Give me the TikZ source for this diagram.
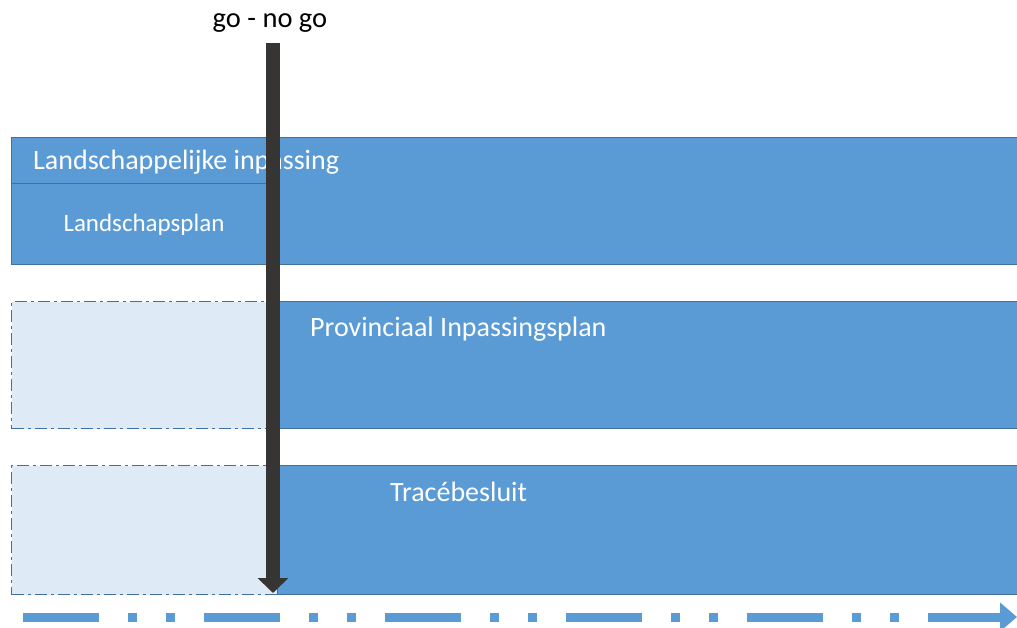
\documentclass[tikz,border=0pt]{standalone}
\usepackage{fontspec}
\setmainfont{Carlito}
\usetikzlibrary{arrows.meta}
\definecolor{barblue}{HTML}{5B9BD5}
\definecolor{barborder}{HTML}{41719C}
\definecolor{lightfill}{HTML}{DEEBF7}
\definecolor{godark}{HTML}{373533}
\tikzset{
  bar/.style={draw=barborder, line width=1pt, fill=barblue, rectangle, inner sep=0pt, anchor=north west},
  pending/.style={draw=barborder, line width=1.3pt, fill=lightfill, rectangle, inner sep=0pt, anchor=north west,
    dash pattern=on 12pt off 4pt on 3pt off 4pt},
  bigtxt/.style={text=white, font=\fontsize{28}{34}\selectfont, inner sep=0pt},
  smalltxt/.style={text=white, font=\fontsize{25}{30}\selectfont, inner sep=0pt},
  gotxt/.style={text=black, font=\fontsize{28.5}{34}\selectfont, inner sep=0pt},
  goarrow/.style={draw=godark, line width=14pt, -{Triangle[width=30pt,length=15pt,fill=godark]}},
  timeline/.style={draw=barblue, line width=9pt, dash pattern=on 76pt off 29pt on 9pt off 29pt on 9pt off 29pt,
    -{Triangle[width=28pt,length=17pt,fill=barblue]}}
}
\begin{document}
\begin{tikzpicture}[x=1pt,y=-1pt]
\useasboundingbox (0,0) rectangle (1017,628);
\clip (0,0) rectangle (1017,628);
% bars
\node[bar, minimum width=1015pt, minimum height=127pt] (landbar) at (11,137) {};
\draw[barborder, line width=1pt] (11,184) coordinate (divl) -- (268,184) coordinate (divr);
\node[pending, minimum width=266pt, minimum height=127pt] (provpend) at (11,301) {};
\node[bar, minimum width=745pt, minimum height=127pt] (provbar) at (277,301) {};
\node[pending, minimum width=266pt, minimum height=129pt] (tracepend) at (11,465) {};
\node[bar, minimum width=745pt, minimum height=129pt] (tracebar) at (277,465) {};
% texts
\node[bigtxt, anchor=west] (landtxt) at (33,162) {Landschappelijke inpassing};
\node[smalltxt] (plantxt) at (144,225) {Landschapsplan};
\node[bigtxt, anchor=west] (provtxt) at (310,329) {Provinciaal Inpassingsplan};
\node[bigtxt, anchor=west] (tracetxt) at (390,492) {Tracébesluit};
\node[gotxt] (gotxt) at (270,23) {go - no go};
% go - no go arrow
\coordinate (gotop) at (273,43);
\coordinate (gobot) at (273,593);
\draw[goarrow] (gotop) -- (gobot);
% timeline
\coordinate (tstart) at (23,617);
\coordinate (tend) at (1017,617);
\draw[timeline] (tstart) -- (tend);
\end{tikzpicture}
\end{document}
